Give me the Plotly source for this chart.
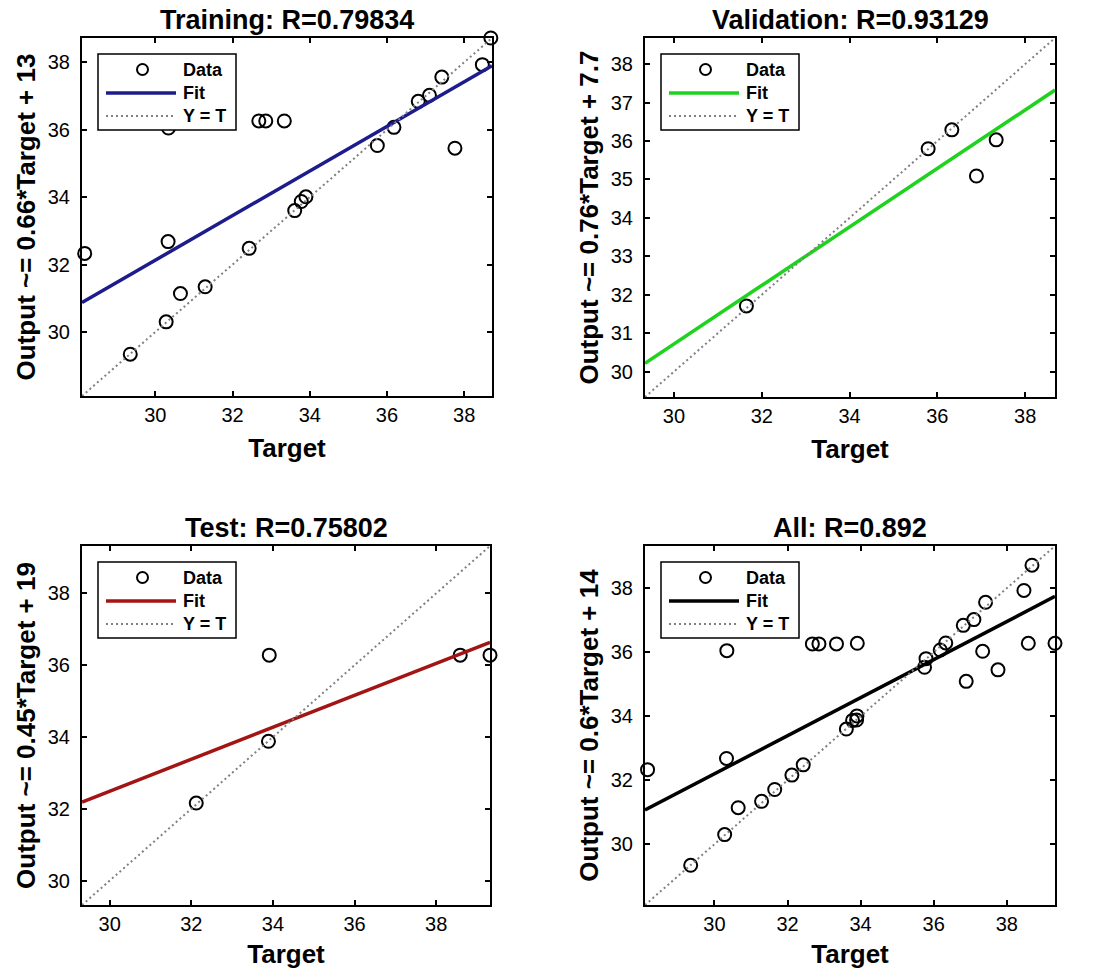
import plotly.graph_objects as go

# ---------------- data ----------------
train_target = [38.69, 38.47, 37.42, 37.10, 36.81, 36.18, 35.75, 37.76, 32.68, 32.86,
                33.34, 30.34, 30.33, 28.17, 32.43, 33.61, 33.78, 33.90, 31.29, 30.65,
                30.28, 29.35]
train_output = [38.72, 37.93, 37.56, 37.02, 36.84, 36.07, 35.53, 35.45, 36.26, 36.26,
                36.26, 36.05, 32.68, 32.33, 32.48, 33.60, 33.87, 34.01, 31.34, 31.14,
                30.30, 29.34]

val_target = [35.79, 36.33, 37.34, 36.89, 31.65]
val_output = [35.80, 36.29, 36.03, 35.09, 31.71]

test_target = [33.91, 33.89, 32.12, 38.59, 39.32]
test_output = [36.28, 33.88, 32.16, 36.28, 36.28]

all_target = train_target + val_target + test_target
all_output = train_output + val_output + test_output

titles = ["Training: R=0.79834", "Validation: R=0.93129", "Test: R=0.75802", "All: R=0.892"]
ylabels = ["Output ~= 0.66*Target + 13", "Output ~= 0.76*Target + 7.7",
           "Output ~= 0.45*Target + 19", "Output ~= 0.6*Target + 14"]
fit_slope = [0.661, 0.761, 0.445, 0.595]
fit_intercept = [12.30, 7.89, 19.14, 14.35]
axis_range = [[28.10, 38.72], [29.34, 38.68], [29.32, 39.32], [28.10, 39.32]]
y_dtick = [2, 1, 2, 2]
fit_colors = ["#1c1c8c", "#1ed21e", "#a31414", "#000000"]

targets = [train_target, val_target, test_target, all_target]
outputs = [train_output, val_output, test_output, all_output]

# ---------------- layout geometry ----------------
W, H = 1094, 969
panels_px = [(82, 492, 38, 396), (645, 1055, 38, 397), (82, 490, 546, 905), (645, 1055, 546, 905)]


def px_x(p):
    return p / W


def px_y(p):
    return 1 - p / H


FONT = "Liberation Sans, Arial, sans-serif"
fig = go.Figure()
shapes = []
annotations = []
layout_axes = {}

for i in range(4):
    xa = "x" if i == 0 else f"x{i + 1}"
    ya = "y" if i == 0 else f"y{i + 1}"
    lo, hi = axis_range[i]
    # data
    fig.add_trace(go.Scatter(
        x=targets[i], y=outputs[i], mode="markers", xaxis=xa, yaxis=ya,
        marker=dict(symbol="circle-open", size=13, color="black", line=dict(width=2, color="black")),
        cliponaxis=False, showlegend=False, name="Data"))
    # fit
    fx = [lo, hi]
    fy = [fit_slope[i] * v + fit_intercept[i] for v in fx]
    fig.add_trace(go.Scatter(
        x=fx, y=fy, mode="lines", xaxis=xa, yaxis=ya,
        line=dict(color=fit_colors[i], width=3.5), showlegend=False, name="Fit"))
    # Y = T
    fig.add_trace(go.Scatter(
        x=[lo, hi], y=[lo, hi], mode="lines", xaxis=xa, yaxis=ya,
        line=dict(color="#808080", width=2, dash="2px,3px"), showlegend=False, name="Y = T"))

    L, R, T, B = panels_px[i]
    axcommon = dict(
        range=[lo, hi], showgrid=False, zeroline=False, showline=True, linecolor="black",
        linewidth=2, mirror="ticks", ticks="inside", ticklen=5, tickwidth=1.5, tickcolor="black",
        tickfont=dict(family=FONT, size=20, color="black"),
    )
    layout_axes["xaxis" if i == 0 else f"xaxis{i + 1}"] = dict(
        axcommon, domain=[px_x(L), px_x(R)], anchor=ya, dtick=2, tick0=0,
        ticklabelstandoff=0,
        title=dict(text="Target", standoff=14,
                   font=dict(family=FONT, size=26, color="black", weight="bold")))
    layout_axes["yaxis" if i == 0 else f"yaxis{i + 1}"] = dict(
        axcommon, domain=[px_y(B), px_y(T)], anchor=xa, dtick=y_dtick[i], tick0=0,
        ticklabelstandoff=6,
        title=dict(text=ylabels[i], standoff=5,
                   font=dict(family=FONT, size=26, color="black", weight="bold")))

    # panel title
    annotations.append(dict(
        text=titles[i], xref="paper", yref="paper", x=px_x((L + R) / 2),
        y=px_y(T - 18), xanchor="center", yanchor="middle", showarrow=False,
        font=dict(family=FONT, size=27, color="black", weight="bold")))

    # legend box (drawn like MATLAB's)
    bl, bt = L + 16, T + 16
    shapes.append(dict(type="rect", xref="paper", yref="paper", layer="above",
                       x0=px_x(bl), x1=px_x(bl + 138), y0=px_y(bt), y1=px_y(bt + 76),
                       fillcolor="white", line=dict(color="black", width=1.5)))
    shapes.append(dict(type="circle", xref="paper", yref="paper", layer="above",
                       x0=px_x(bl + 39), x1=px_x(bl + 50), y0=px_y(bt + 10), y1=px_y(bt + 21),
                       line=dict(color="black", width=2)))
    shapes.append(dict(type="line", xref="paper", yref="paper", layer="above",
                       x0=px_x(bl + 8), x1=px_x(bl + 78), y0=px_y(bt + 39), y1=px_y(bt + 39),
                       line=dict(color=fit_colors[i], width=3.5)))
    shapes.append(dict(type="line", xref="paper", yref="paper", layer="above",
                       x0=px_x(bl + 8), x1=px_x(bl + 78), y0=px_y(bt + 62), y1=px_y(bt + 62),
                       line=dict(color="#808080", width=2, dash="2px,3px")))
    for txt, dy in (("Data", 16), ("Fit", 39), ("Y = T", 62)):
        annotations.append(dict(
            text=txt, xref="paper", yref="paper", x=px_x(bl + 83), y=px_y(bt + dy),
            xanchor="left", yanchor="middle", showarrow=False,
            font=dict(family=FONT, size=18, color="black", weight="bold")))

fig.update_layout(
    width=W, height=H, margin=dict(l=0, r=0, t=0, b=0),
    paper_bgcolor="white", plot_bgcolor="white",
    shapes=shapes, annotations=annotations, showlegend=False,
    **layout_axes)

# remove the browser's default 8px page margin so the figure fills the window exactly
fig.write_html("out.html", config={"displayModeBar": False},
               post_script="document.body.style.margin='0';")
